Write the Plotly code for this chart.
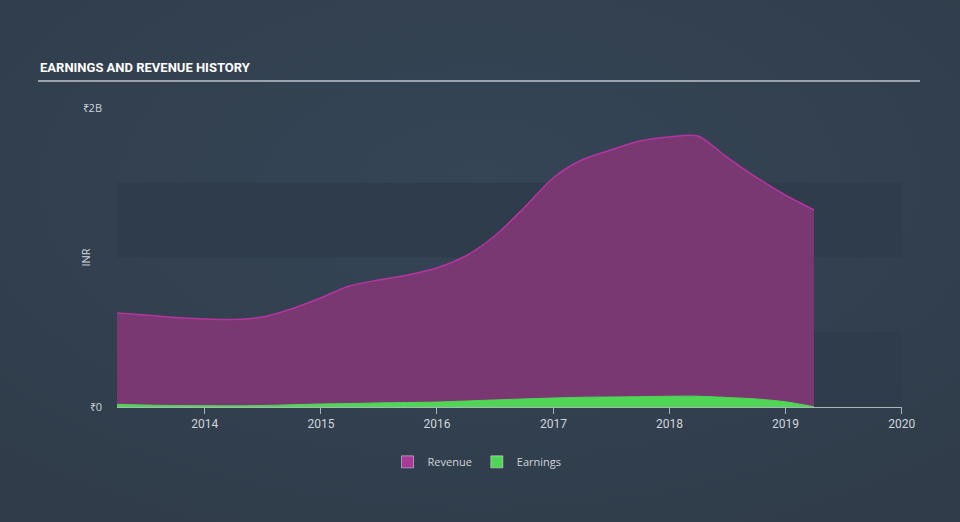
import base64
import plotly.graph_objects as go

dates = ["2013-03-31", "2013-06-30", "2013-09-30", "2013-12-31",
         "2014-03-31", "2014-06-30", "2014-09-30", "2014-12-31",
         "2015-03-31", "2015-06-30", "2015-09-30", "2015-12-31",
         "2016-03-31", "2016-06-30", "2016-09-30", "2016-12-31",
         "2017-03-31", "2017-06-30", "2017-09-30", "2017-12-31",
         "2018-03-31", "2018-06-30", "2018-09-30", "2018-12-31",
         "2019-03-31"]
revenue = [0.629e9, 0.615e9, 0.599e9, 0.589e9,
           0.585e9, 0.602e9, 0.656e9, 0.729e9,
           0.809e9, 0.849e9, 0.883e9, 0.930e9,
           1.010e9, 1.144e9, 1.331e9, 1.532e9,
           1.652e9, 1.719e9, 1.779e9, 1.806e9,
           1.813e9, 1.672e9, 1.538e9, 1.418e9,
           1.318e9]
earnings = [0.018e9, 0.013e9, 0.010e9, 0.009e9,
            0.008e9, 0.010e9, 0.015e9, 0.020e9,
            0.023e9, 0.027e9, 0.030e9, 0.033e9,
            0.040e9, 0.047e9, 0.054e9, 0.060e9,
            0.065e9, 0.067e9, 0.069e9, 0.072e9,
            0.072e9, 0.064e9, 0.054e9, 0.035e9,
            0.002e9]
year_ticks = ["2014-01-01", "2015-01-01", "2016-01-01", "2017-01-01",
              "2018-01-01", "2019-01-01", "2020-01-01"]
year_labels = ["2014", "2015", "2016", "2017", "2018", "2019", "2020"]
y_ticks = [0, 2e9]
y_labels = ["₹0", "₹2B"]

REV_LINE = "#b5359f"
REV_FILL = "#7a3873"
EARN = "#4fd655"
TXT = "#d0d5da"

fig = go.Figure()
fig.add_trace(go.Scatter(
    x=dates, y=revenue, name="Revenue", mode="lines", showlegend=False,
    line=dict(color=REV_LINE, width=1.5, shape="spline", smoothing=0.8),
    fill="tozeroy", fillcolor=REV_FILL,
))
fig.add_trace(go.Scatter(
    x=dates, y=earnings, name="Earnings", mode="lines", showlegend=False,
    line=dict(color=EARN, width=1, shape="spline", smoothing=0.8),
    fill="tozeroy", fillcolor=EARN,
))
fig.add_trace(go.Bar(x=[None], y=[None], name="Revenue", marker=dict(color="#a93a9a")))
fig.add_trace(go.Bar(x=[None], y=[None], name="Earnings", marker=dict(color=EARN)))

bands = [(0, 0.5e9), (1.0e9, 1.5e9)]
shapes = []
for y0, y1 in bands:
    shapes.append(dict(type="rect", xref="paper", yref="y", x0=0, x1=1, y0=y0, y1=y1,
                       fillcolor="#2e3c4b", line=dict(width=0), layer="below"))
shapes.append(dict(type="line", xref="paper", yref="paper",
                   x0=(38 - 117) / 785, x1=(920 - 117) / 785,
                   y0=(407 - 81) / 299, y1=(407 - 81) / 299,
                   line=dict(color="#9aa3ad", width=2)))

svg = ('<svg xmlns="http://www.w3.org/2000/svg" width="960" height="522" preserveAspectRatio="none">'
       '<defs><radialGradient id="g" cx="50%" cy="35%" r="75%">'
       '<stop offset="0%" stop-color="#354556"/><stop offset="100%" stop-color="#303c4a"/>'
       '</radialGradient></defs><rect width="960" height="522" fill="url(#g)"/></svg>')
bg_src = "data:image/svg+xml;base64," + base64.b64encode(svg.encode()).decode()

fig.update_layout(
    width=960, height=522,
    margin=dict(l=117, r=58, t=108, b=115),
    paper_bgcolor="#334251",
    plot_bgcolor="rgba(0,0,0,0)",
    shapes=shapes,
    images=[dict(source=bg_src, xref="paper", yref="paper",
                 x=-117 / 785, y=1 + 108 / 299, sizex=960 / 785, sizey=522 / 299,
                 xanchor="left", yanchor="top", sizing="stretch", layer="below")],
    showlegend=True,
    barmode="overlay",
    legend=dict(orientation="h", x=(477 - 117) / 785, xanchor="center", y=-0.135, yanchor="top",
                bgcolor="rgba(0,0,0,0)",
                font=dict(family="Open Sans", size=11, color=TXT),
                itemwidth=30, traceorder="normal"),
    annotations=[
        dict(text="<b>EARNINGS AND REVENUE HISTORY</b>", xref="paper", yref="paper",
             x=(38 - 117) / 785, y=(407 - 67) / 299, xanchor="left", yanchor="middle",
             showarrow=False, font=dict(family="Roboto", size=13, color="#ffffff")),
        dict(text="INR", xref="paper", yref="paper", textangle=-90,
             x=(85 - 117) / 785, y=0.5, xanchor="center", yanchor="middle",
             showarrow=False, font=dict(family="Open Sans", size=11, color=TXT)),
    ],
    xaxis=dict(
        type="date", range=["2013-03-31", "2020-01-02"],
        tickvals=year_ticks, ticktext=year_labels,
        showgrid=False, zeroline=False,
        showline=True, linecolor="#aab2bb", linewidth=1,
        ticks="outside", ticklen=6, tickcolor="#aab2bb",
        tickfont=dict(family="Roboto", size=12, color=TXT),
    ),
    yaxis=dict(
        range=[0, 2e9], tickvals=y_ticks, ticktext=y_labels,
        showgrid=False, zeroline=False, showline=False,
        ticklabelstandoff=14,
        tickfont=dict(family="Open Sans", size=11, color=TXT),
    ),
)

fig.write_html("out.html")
